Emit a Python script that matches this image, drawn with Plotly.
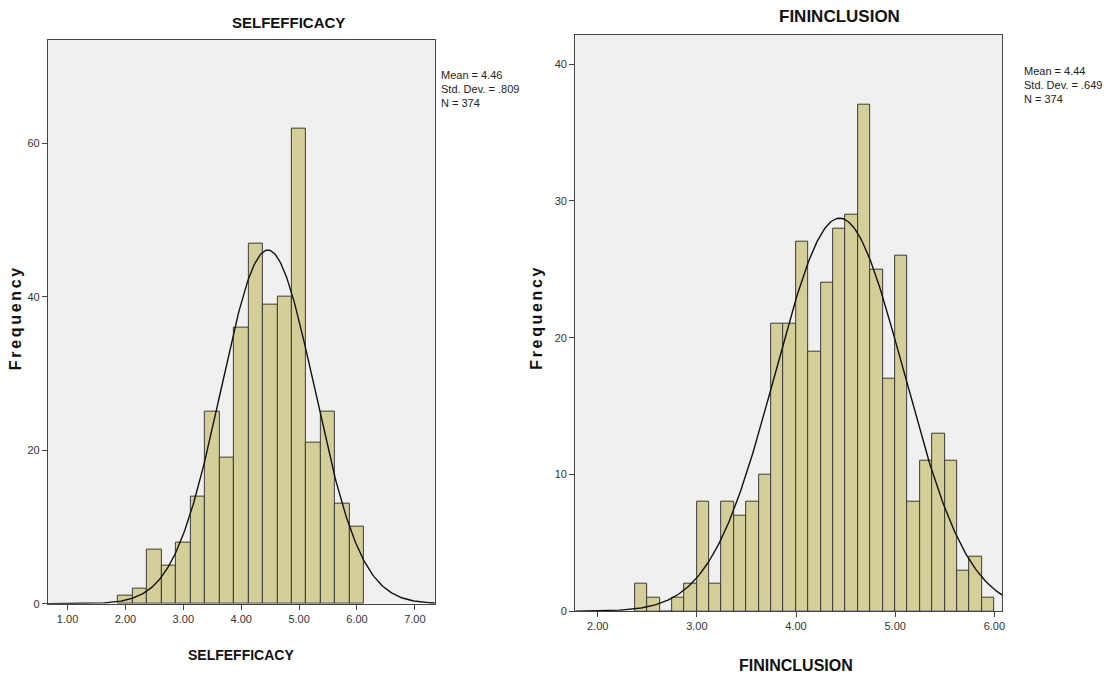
import plotly.graph_objects as go
import numpy as np

W, H = 1119, 684

# ---- data ----
self_bin_start = 1.875
self_bin_width = 0.25
self_counts = [1, 2, 7, 5, 8, 14, 25, 19, 36, 47, 39, 40, 62, 21, 25, 13, 10]
self_mean, self_sd, self_n = 4.46, 0.809, 374

fin_bin_start = 2.375
fin_bin_width = 0.125
fin_counts = [2, 1, 0, 1, 2, 8, 2, 8, 7, 8, 10, 21, 21, 27, 19, 24, 28, 29, 37,
              25, 17, 26, 8, 11, 13, 11, 3, 4, 1]
fin_mean, fin_sd, fin_n = 4.44, 0.649, 374

self_xticks = [1, 2, 3, 4, 5, 6, 7]
self_yticks = [0, 20, 40, 60]
fin_xticks = [2, 3, 4, 5, 6]
fin_yticks = [0, 10, 20, 30, 40]

BAR_FILL = "#d4cf98"
BAR_LINE = "#3a3a3a"
BG = "#f0f0f0"
NARROW = "Liberation Sans Narrow, Arial Narrow, Liberation Sans, Arial, sans-serif"
BOLD = "Liberation Sans, Arial, sans-serif"


def px(x):
    return x / W


def py(y):
    return 1 - y / H


def normal_curve(mean, sd, n, bw, x0, x1):
    xs = np.linspace(x0, x1, 300)
    ys = n * bw * np.exp(-0.5 * ((xs - mean) / sd) ** 2) / (sd * np.sqrt(2 * np.pi))
    return xs, ys


fig = go.Figure()

# left histogram
self_centers = [self_bin_start + self_bin_width * (i + 0.5) for i in range(len(self_counts))]
fig.add_trace(go.Bar(x=self_centers, y=self_counts, width=self_bin_width,
                     marker=dict(color=BAR_FILL, line=dict(color=BAR_LINE, width=1)),
                     xaxis="x", yaxis="y", showlegend=False))
sx_range = [0.66, 7.345]
cx, cy = normal_curve(self_mean, self_sd, self_n, self_bin_width, *sx_range)
fig.add_trace(go.Scatter(x=cx, y=cy, mode="lines", line=dict(color="#111", width=1.4),
                         xaxis="x", yaxis="y", showlegend=False, hoverinfo="skip"))

# right histogram
fin_centers = [fin_bin_start + fin_bin_width * (i + 0.5) for i in range(len(fin_counts))]
fig.add_trace(go.Bar(x=fin_centers, y=fin_counts, width=fin_bin_width,
                     marker=dict(color=BAR_FILL, line=dict(color=BAR_LINE, width=1)),
                     xaxis="x2", yaxis="y2", showlegend=False))
fx_range = [1.773, 6.08]
cx2, cy2 = normal_curve(fin_mean, fin_sd, fin_n, fin_bin_width, *fx_range)
fig.add_trace(go.Scatter(x=cx2, y=cy2, mode="lines", line=dict(color="#111", width=1.4),
                         xaxis="x2", yaxis="y2", showlegend=False, hoverinfo="skip"))

axis_common = dict(showgrid=False, zeroline=False, showline=True, linecolor="#444",
                   linewidth=1, mirror=True, ticks="outside", ticklen=5, tickcolor="#444",
                   tickfont=dict(family=NARROW, size=11, color="#333"))

fig.update_layout(
    width=W, height=H,
    margin=dict(l=0, r=0, t=0, b=0),
    paper_bgcolor="white",
    plot_bgcolor=BG,
    bargap=0,
    xaxis=dict(domain=[px(48), px(436)], range=sx_range, tickvals=self_xticks,
               ticktext=[f"{v:.2f}" for v in self_xticks], anchor="y", **axis_common),
    yaxis=dict(domain=[py(609), py(40)], range=[0, 73.56], tickvals=self_yticks,
               anchor="x", **axis_common),
    xaxis2=dict(domain=[px(576.7), px(1005)], range=fx_range, tickvals=fin_xticks,
                ticktext=[f"{v:.2f}" for v in fin_xticks], anchor="y2", **axis_common),
    yaxis2=dict(domain=[py(616.7), py(35)], range=[0, 42.15], tickvals=fin_yticks,
                anchor="x2", **axis_common),
)

ann = []
SP = "\u2006"
freq = SP.join("Frequency")
# titles
ann.append(dict(text="<b>SELFEFFICACY</b>", x=px(289), y=py(23), font=dict(family=BOLD, size=15, color="#111")))
ann.append(dict(text="<b>FININCLUSION</b>", x=px(842), y=py(17), font=dict(family=BOLD, size=17, color="#111")))
# x axis titles
ann.append(dict(text="<b>SELFEFFICACY</b>", x=px(242), y=py(661), font=dict(family=BOLD, size=14, color="#111")))
ann.append(dict(text="<b>FININCLUSION</b>", x=px(798), y=py(671), font=dict(family=BOLD, size=16, color="#111")))
# y axis titles
ann.append(dict(text=f"<b>{freq}</b>", x=px(15), y=py(322), textangle=-90, font=dict(family=BOLD, size=16, color="#111")))
ann.append(dict(text=f"<b>{freq}</b>", x=px(538), y=py(322), textangle=-90, font=dict(family=BOLD, size=16, color="#111")))

# stats
def stats(x, y0, lines):
    for i, t in enumerate(lines):
        ann.append(dict(text=t, x=px(x), y=py(y0 + 14 * i), xanchor="left",
                        font=dict(family=NARROW, size=11, color="#222")))

stats(440, 76, [f"Mean = {self_mean:.2f}", "Std. Dev. = .809", f"N = {self_n}"])
stats(1025, 72, [f"Mean = {fin_mean:.2f}", "Std. Dev. = .649", f"N = {fin_n}"])

for a in ann:
    a.setdefault("xref", "paper")
    a.setdefault("yref", "paper")
    a.setdefault("showarrow", False)
    a.setdefault("xanchor", "center")
    a.setdefault("yanchor", "middle")
fig.update_layout(annotations=ann)

fig.write_html("out.html", config={"displayModeBar": False},
               post_script="document.body.style.margin='0px';")
